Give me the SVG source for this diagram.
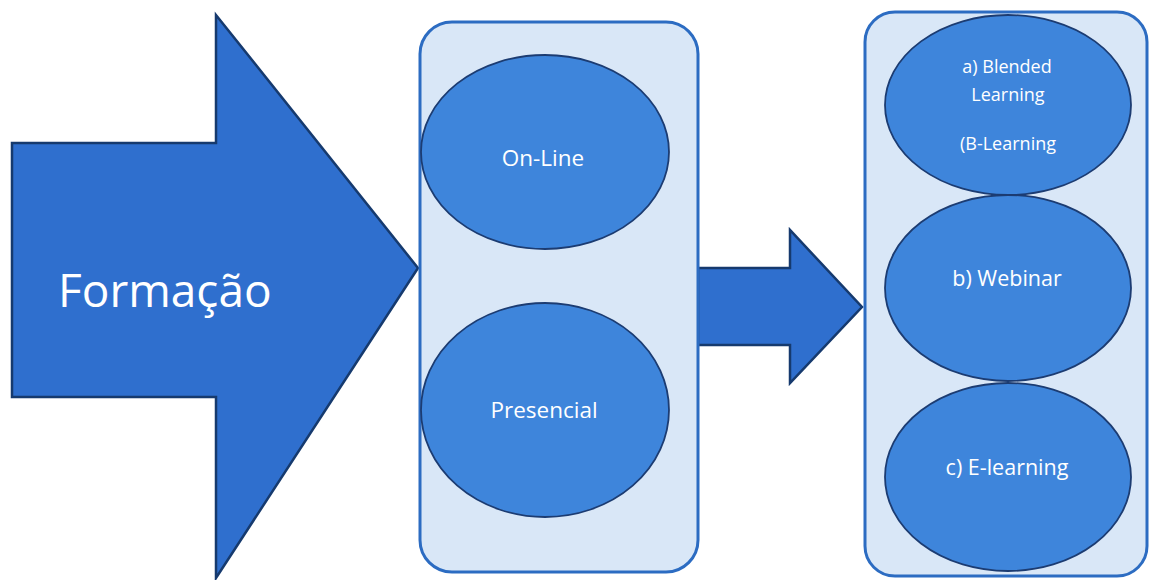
<svg xmlns="http://www.w3.org/2000/svg" width="1153" height="580" viewBox="0 0 1153 580">
<defs>
<style>
.arrow{fill:#2f6fce;stroke:#163a6e;stroke-width:2.5;stroke-linejoin:miter}
.box{fill:#d9e7f7;stroke:#2c6cc2;stroke-width:3}
.ell{fill:#3e85db;stroke:#1c3c72;stroke-width:1.8}
.lbl{font-family:"Open Sans","Liberation Sans",sans-serif;fill:#ffffff;text-anchor:middle;font-size:18px}
.lbl3{font-family:"Open Sans","Liberation Sans",sans-serif;fill:#ffffff;text-anchor:middle;font-size:21.5px}
.lbl2{font-family:"Open Sans","Liberation Sans",sans-serif;fill:#ffffff;text-anchor:middle;font-size:22.5px}
.big{font-family:"Open Sans","Liberation Sans",sans-serif;fill:#ffffff;font-size:46px}
</style>
</defs>
<g id="formacao">
<polygon class="arrow" points="12,143 216,143 216,15 418,268 216,578 216,397 12,397"/>
<text class="big" x="58" y="307">Formação</text>
</g>
<g id="connectors">
<polygon class="arrow" points="698,268 790,268 790,230 862,307 790,383 790,345 698,345"/>
</g>
<g id="box1">
<rect class="box" x="420" y="22" width="278" height="550" rx="32"/>
</g>
<g id="online">
<ellipse class="ell" cx="545" cy="152" rx="124" ry="97"/>
<text class="lbl2" x="543" y="166">On-Line</text>
</g>
<g id="presencial">
<ellipse class="ell" cx="545" cy="410" rx="124" ry="107"/>
<text class="lbl2" x="544" y="418">Presencial</text>
</g>
<g id="box2">
<rect class="box" x="865" y="12" width="282" height="564" rx="30"/>
</g>
<g id="blended">
<ellipse class="ell" cx="1008" cy="105" rx="123" ry="90"/>
<text class="lbl" x="1007" y="73">a) Blended</text>
<text class="lbl" x="1008" y="101">Learning</text>
<text class="lbl" x="1008" y="150">(B-Learning</text>
</g>
<g id="webinar">
<ellipse class="ell" cx="1008" cy="288" rx="123" ry="93"/>
<text class="lbl3" x="1007" y="286">b) Webinar</text>
</g>
<g id="elearning">
<ellipse class="ell" cx="1008" cy="477" rx="123" ry="94"/>
<text class="lbl3" x="1007" y="475">c) E-learning</text>
</g>
</svg>
